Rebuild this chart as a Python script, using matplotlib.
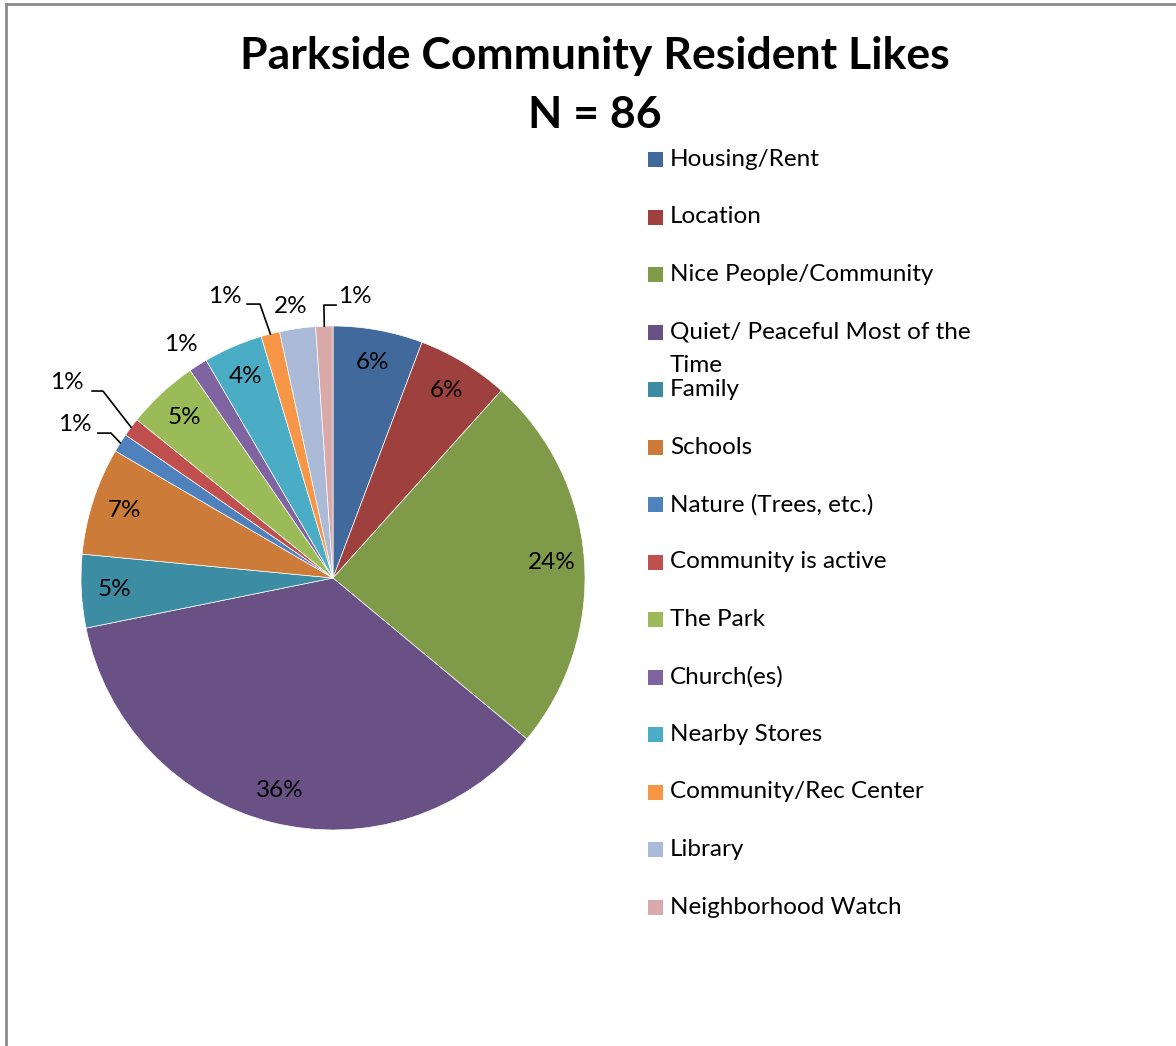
import numpy as np
import matplotlib
matplotlib.use("Agg")
import matplotlib.pyplot as plt
from matplotlib.patches import Rectangle
from matplotlib.lines import Line2D

plt.rcParams['font.family'] = ['Lato', 'DejaVu Sans']

categories = ["Housing/Rent", "Location", "Nice People/Community",
              "Quiet/ Peaceful Most of the\nTime", "Family", "Schools",
              "Nature (Trees, etc.)", "Community is active", "The Park",
              "Church(es)", "Nearby Stores", "Community/Rec Center",
              "Library", "Neighborhood Watch"]
# share of responses (%)
shares = [5.75, 5.9, 24.4, 35.8, 4.7, 6.9, 1.2, 1.2, 4.6, 1.2, 3.8, 1.2, 2.3, 1.1]
colors = ["#41699C", "#9E413E", "#7F9A48", "#695185", "#3C8DA3", "#CC7B38",
          "#4F81BD", "#C0504D", "#9BBB59", "#8064A2", "#4BACC6", "#F79646",
          "#AABAD7", "#D9AAA9"]

W, H = 1176, 1046
fs = 17.5
fig = plt.figure(figsize=(W / 100, H / 100), dpi=100)

# pie: centre (333, 578) px, radius 252 px
cx, cy, R = 333, 578, 252
ax = fig.add_axes([(cx - R) / W, (H - cy - R) / H, 2 * R / W, 2 * R / H])
wedges, texts, autotexts = ax.pie(shares, colors=colors, startangle=90, counterclock=False,
                                  autopct=lambda p: "%.0f%%" % p, pctdistance=0.87,
                                  wedgeprops=dict(edgecolor="white", linewidth=0.5),
                                  textprops=dict(fontsize=fs, color="black"))
ax.set_xlim(-1, 1)
ax.set_ylim(-1, 1)
ax.set_aspect("equal")
ax.axis("off")

# labels placed outside: index -> (x, y, ha, elbow, end) in pie units
outside = {
    6: (-0.956, 0.611, "right", (-0.881, 0.575), (-0.933, 0.575)),
    7: (-0.988, 0.774, "right", (-0.913, 0.742), (-0.956, 0.742)),
    9: (-0.603, 0.925, "center", None, None),
    11: (-0.361, 1.119, "right", (-0.290, 1.087), (-0.341, 1.087)),
    12: (-0.167, 1.079, "center", None, None),
    13: (0.02, 1.119, "left", (-0.036, 1.083), (0.012, 1.083)),
}
total = sum(shares)
for i, (tx, ty, ha, elbow, end) in outside.items():
    autotexts[i].set_text("")
    ax.text(tx, ty, "%.0f%%" % (shares[i] / total * 100), ha=ha, va="center",
            fontsize=fs, clip_on=False)
    if elbow is not None:
        w = wedges[i]
        mid = np.deg2rad((w.theta1 + w.theta2) / 2)
        x0, y0 = np.cos(mid), np.sin(mid)
        ax.plot([x0, elbow[0], end[0]], [y0, elbow[1], end[1]], color="black",
                lw=1.2, clip_on=False)

# title
fig.text(595 / W, 1 - 56 / H, "Parkside Community Resident Likes", ha="center", va="center",
         fontsize=32, fontweight="bold")
fig.text(595 / W, 1 - 115 / H, "N = 86", ha="center", va="center",
         fontsize=32, fontweight="bold")

# legend drawn by hand, fixed row pitch as in the original
for i, (lab, col) in enumerate(zip(categories, colors)):
    y = 159.5 + 57.5 * i
    fig.patches.append(Rectangle((648 / W, 1 - (y + 7.5) / H), 15 / W, 15 / H,
                                 transform=fig.transFigure, facecolor=col, edgecolor="none"))
    for k, line in enumerate(lab.split("\n")):
        fig.text(670 / W, 1 - (y + 33 * k) / H, line, ha="left", va="center", fontsize=fs)

# chart-area border (left and top visible)
fig.add_artist(Line2D([6 / W, 6 / W], [0, 1 - 4 / H], color="#8a8a8a", lw=2,
                      transform=fig.transFigure))
fig.add_artist(Line2D([6 / W, 1], [1 - 4 / H, 1 - 4 / H], color="#8a8a8a", lw=2,
                      transform=fig.transFigure))

fig.savefig("out.png", dpi=100)
